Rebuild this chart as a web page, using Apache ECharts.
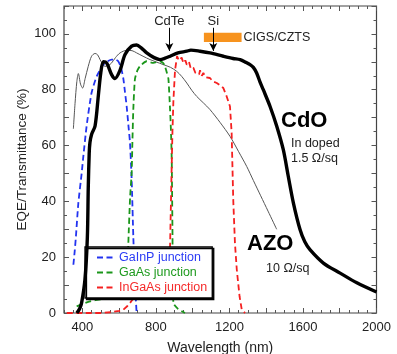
<!DOCTYPE html>
<html>
<head>
<meta charset="utf-8">
<script src="https://cdn.jsdelivr.net/npm/echarts@6/dist/echarts.min.js"></script>
<style>
  html, body { margin: 0; padding: 0; background: #fff; }
  #chart { width: 397px; height: 354px; }
</style>
</head>
<body>
<div id="chart"></div>
<script>
// wavelength (nm), value (%)
const cdo = [
  [370, 0], [385, 1.5], [396, 3.7], [414, 12], [427, 27], [432, 45], [437, 57], [441, 61],
  [450, 64], [469, 67], [487, 78], [500, 86], [514, 90], [532, 89.6], [559, 85.4], [577, 84],
  [605, 87], [632, 92.6], [668, 95.6], [695, 96], [720, 95], [750, 93.2], [790, 91.5],
  [822, 90.8], [850, 91.3], [877, 92], [920, 93.2], [968, 93.8], [990, 94.2], [1040, 93.8],
  [1094, 93.2], [1167, 92], [1220, 91.2], [1258, 90.8], [1290, 89.8], [1312, 89], [1330, 88],
  [1348, 86], [1365, 83], [1384, 80], [1421, 74], [1457, 67], [1493, 58.5], [1520, 49],
  [1548, 39.4], [1584, 29.9], [1610, 25.5], [1638, 22.7], [1711, 17.9], [1802, 14.3],
  [1893, 10.8], [2000, 7.5]
];
const azo = [
  [351, 66], [360, 75], [370, 83], [378, 85.8], [390, 82], [401, 80.6], [415, 84], [432, 88.4],
  [450, 92], [469, 93], [483, 92.5], [496, 90.8], [510, 89.2], [523, 88.4], [540, 88.6],
  [559, 89.6], [580, 91.5], [605, 93.2], [641, 94.1], [670, 94], [695, 93.2], [730, 92],
  [768, 90.8], [800, 90], [840, 89], [880, 88], [913, 86.6], [940, 84.8], [968, 82.4],
  [995, 79.8], [1022, 77.6], [1058, 75.3], [1094, 72.9], [1150, 68.2], [1203, 63.3],
  [1250, 57.8], [1294, 52.5], [1330, 47.5], [1370, 42], [1410, 36.5], [1457, 30]
];
const gainp = [
  [351, 17.3], [358, 22], [365, 27.5], [378, 39.4], [396, 50], [405, 56], [423, 67], [450, 78.9],
  [478, 84.8], [514, 89], [540, 90.3], [559, 90.8], [580, 90.8], [595, 90.2], [610, 88],
  [623, 83.9], [632, 79], [641, 74], [650, 67.5], [659, 61], [668, 48], [677, 27.5],
  [686, 10.8], [695, 0]
];
const gaas = [
  [369, 2.4], [400, 3.2], [441, 4.2], [500, 4.9], [550, 5.4], [600, 5.7], [641, 6.2], [645, 10],
  [650, 25], [660, 42], [668, 50], [672, 61], [677, 72.9], [686, 83.9], [700, 87], [713, 88.4],
  [750, 90.2], [786, 89.6], [822, 90.2], [840, 89.5], [849, 88.4], [860, 86], [868, 83.9],
  [877, 72.9], [882, 65], [886, 55], [890, 30], [895, 3.6], [920, 1.5], [958, 0]
];
const ingaas = [
  [315, 0], [400, 0], [500, 0], [560, 0.3], [600, 0.8], [623, 1.2], [645, 2.5], [659, 3.6],
  [675, 5], [700, 7], [800, 9], [860, 12], [872, 20], [877, 24], [885, 50], [890, 65],
  [895, 75.8], [904, 87], [915, 92], [925, 90.5], [931, 90.2], [940, 91.5], [950, 89.5],
  [960, 90.5], [968, 89], [980, 90], [990, 87.5], [1004, 87.8], [1015, 86], [1022, 86.6],
  [1035, 85.5], [1040, 87], [1050, 85], [1058, 86], [1070, 84.5], [1080, 85.2], [1094, 84.2],
  [1110, 83], [1131, 82.4], [1150, 81.5], [1167, 80.6], [1185, 77.6], [1203, 74], [1212, 64.5],
  [1218, 47.8], [1221, 40], [1230, 25], [1240, 15.5], [1255, 6], [1267, 1.2], [1285, 0]
];

// band-gap arrows and absorber band
const arrows = [['CdTe', 873], ['Si', 1112]];
const cigsBand = [1061, 1266];

const xLabels = [400, 800, 1200, 1600, 2000];
const xMajor = [400, 600, 800, 1000, 1200, 1400, 1600, 1800, 2000];
const xMinor = [];
for (let v = 300; v <= 2000; v += 50) xMinor.push(v);

const FONT = 'Liberation Sans';
const DASH = [6, 3.5];

var myChart = echarts.init(document.getElementById('chart'));

const tickAxis = (pos, ticks, len) => ({
  type: 'value', position: pos, min: 300, max: 2000,
  axisLine: { show: false }, splitLine: { show: false },
  axisLabel: { show: false },
  axisTick: { show: true, inside: true, length: len, customValues: ticks, lineStyle: { color: '#555', width: 1 } }
});

const rightAxis = {
  type: 'value', position: 'right', min: 0, max: 110, interval: 10,
  axisLine: { show: false }, splitLine: { show: false }, axisLabel: { show: false },
  axisTick: { show: true, inside: true, length: 5, lineStyle: { color: '#555' } },
  minorTick: { show: true, splitNumber: 2, length: 3, lineStyle: { color: '#555' } }
};

function dashed(name, data, color) {
  return {
    name: name, type: 'line', data: data, showSymbol: false, symbol: 'none', smooth: 0.2,
    lineStyle: { color: color, width: 1.8, type: DASH }, itemStyle: { color: color }, z: 3
  };
}

myChart.setOption({
  animation: false,
  grid: { left: 64, right: 20.5, top: 6, bottom: 41, show: true, borderColor: '#444', borderWidth: 1.2,
          outerBoundsMode: 'none' },
  xAxis: [
    {
      type: 'value', position: 'bottom', min: 300, max: 2000,
      name: 'Wavelength (nm)', nameLocation: 'middle', nameGap: 28, nameMoveOverlap: false,
      nameTextStyle: { fontFamily: FONT, fontSize: 14, color: '#222' },
      axisLine: { show: false }, splitLine: { show: false },
      axisLabel: { customValues: xLabels, margin: 8, fontFamily: FONT, fontSize: 13, color: '#222',
                   formatter: v => String(v) },
      axisTick: { show: true, inside: true, length: 5, customValues: xMajor, lineStyle: { color: '#555' } }
    },
    tickAxis('bottom', xMinor, 3),
    tickAxis('top', xMajor, 5),
    tickAxis('top', xMinor, 3)
  ],
  yAxis: [
    {
      type: 'value', position: 'left', min: 0, max: 110, interval: 10,
      name: 'EQE/Transmittance (%)', nameLocation: 'middle', nameGap: 35, nameMoveOverlap: false,
      nameTextStyle: { fontFamily: FONT, fontSize: 13.5, color: '#222' },
      axisLine: { show: false }, splitLine: { show: false },
      axisLabel: {
        margin: 8, fontFamily: FONT, fontSize: 13, color: '#222',
        formatter: v => (v % 20 === 0 && v <= 100 ? String(v) : '')
      },
      axisTick: { show: true, inside: true, length: 5, lineStyle: { color: '#555' } },
      minorTick: { show: true, splitNumber: 2, length: 3, lineStyle: { color: '#555' } }
    },
    rightAxis
  ],
  legend: {
    data: [
      { name: 'GaInP junction', textStyle: { color: '#2b3cf5' } },
      { name: 'GaAs junction', textStyle: { color: '#1e9a1e' } },
      { name: 'InGaAs junction', textStyle: { color: '#f52a2a' } }
    ],
    orient: 'vertical', left: 85, top: 247,
    itemWidth: 17, itemHeight: 12, itemGap: 2,
    padding: [4, 5, 4, 11],
    backgroundColor: '#fff', borderColor: '#000', borderWidth: 1.3, borderRadius: 0,
    shadowColor: '#000', shadowBlur: 0, shadowOffsetX: 1.5, shadowOffsetY: 1.5,
    itemStyle: { opacity: 0 },
    textStyle: { fontFamily: FONT, fontSize: 12.5, lineHeight: 12 },
    selectedMode: false
  },
  series: [
    {
      name: 'AZO', type: 'line', data: azo, showSymbol: false, symbol: 'none', smooth: 0.3,
      lineStyle: { color: '#555', width: 1 }, z: 2
    },
    dashed('GaInP junction', gainp, '#2233f0'),
    dashed('GaAs junction', gaas, '#1a961a'),
    Object.assign(dashed('InGaAs junction', ingaas, '#f52020'), { smooth: false }),
    {
      name: 'CdO', type: 'line', data: cdo, showSymbol: false, symbol: 'none', smooth: 0.3,
      lineStyle: { color: '#000', width: 3.4 }, z: 4,
      markLine: {
        silent: true, symbol: ['none', 'arrow'], symbolSize: [6, 8], precision: 1,
        lineStyle: { color: '#000', width: 1, type: 'solid' },
        label: { show: true, position: 'start', distance: 0, formatter: p => p.name,
                 fontFamily: FONT, fontSize: 13, color: '#222' },
        data: arrows.map(a => [{ name: a[0], coord: [a[1], 102.2] }, { coord: [a[1], 93.9] }])
      },
      markArea: {
        silent: true,
        itemStyle: { color: '#f7931e' },
        label: { show: true, position: 'right', distance: 2, fontFamily: FONT, fontSize: 12.5, color: '#222' },
        data: [[{ name: 'CIGS/CZTS', coord: [cigsBand[0], 100.4] }, { coord: [cigsBand[1], 97.1] }]]
      }
    }
  ],
  graphic: [
    { type: 'text', left: 281, top: 110, style: { text: 'CdO', font: 'bold 22px "Liberation Sans"', fill: '#000' } },
    { type: 'text', left: 291, top: 137, style: { text: 'In doped', font: '12.5px "Liberation Sans"', fill: '#222' } },
    { type: 'text', left: 291, top: 152.5, style: { text: '1.5 \u03A9/sq', font: '12.5px "Liberation Sans"', fill: '#222' } },
    { type: 'text', left: 247, top: 233, style: { text: 'AZO', font: 'bold 22px "Liberation Sans"', fill: '#000' } },
    { type: 'text', left: 266, top: 262, style: { text: '10 \u03A9/sq', font: '12.5px "Liberation Sans"', fill: '#222' } }
  ]
});
</script>
</body>
</html>
